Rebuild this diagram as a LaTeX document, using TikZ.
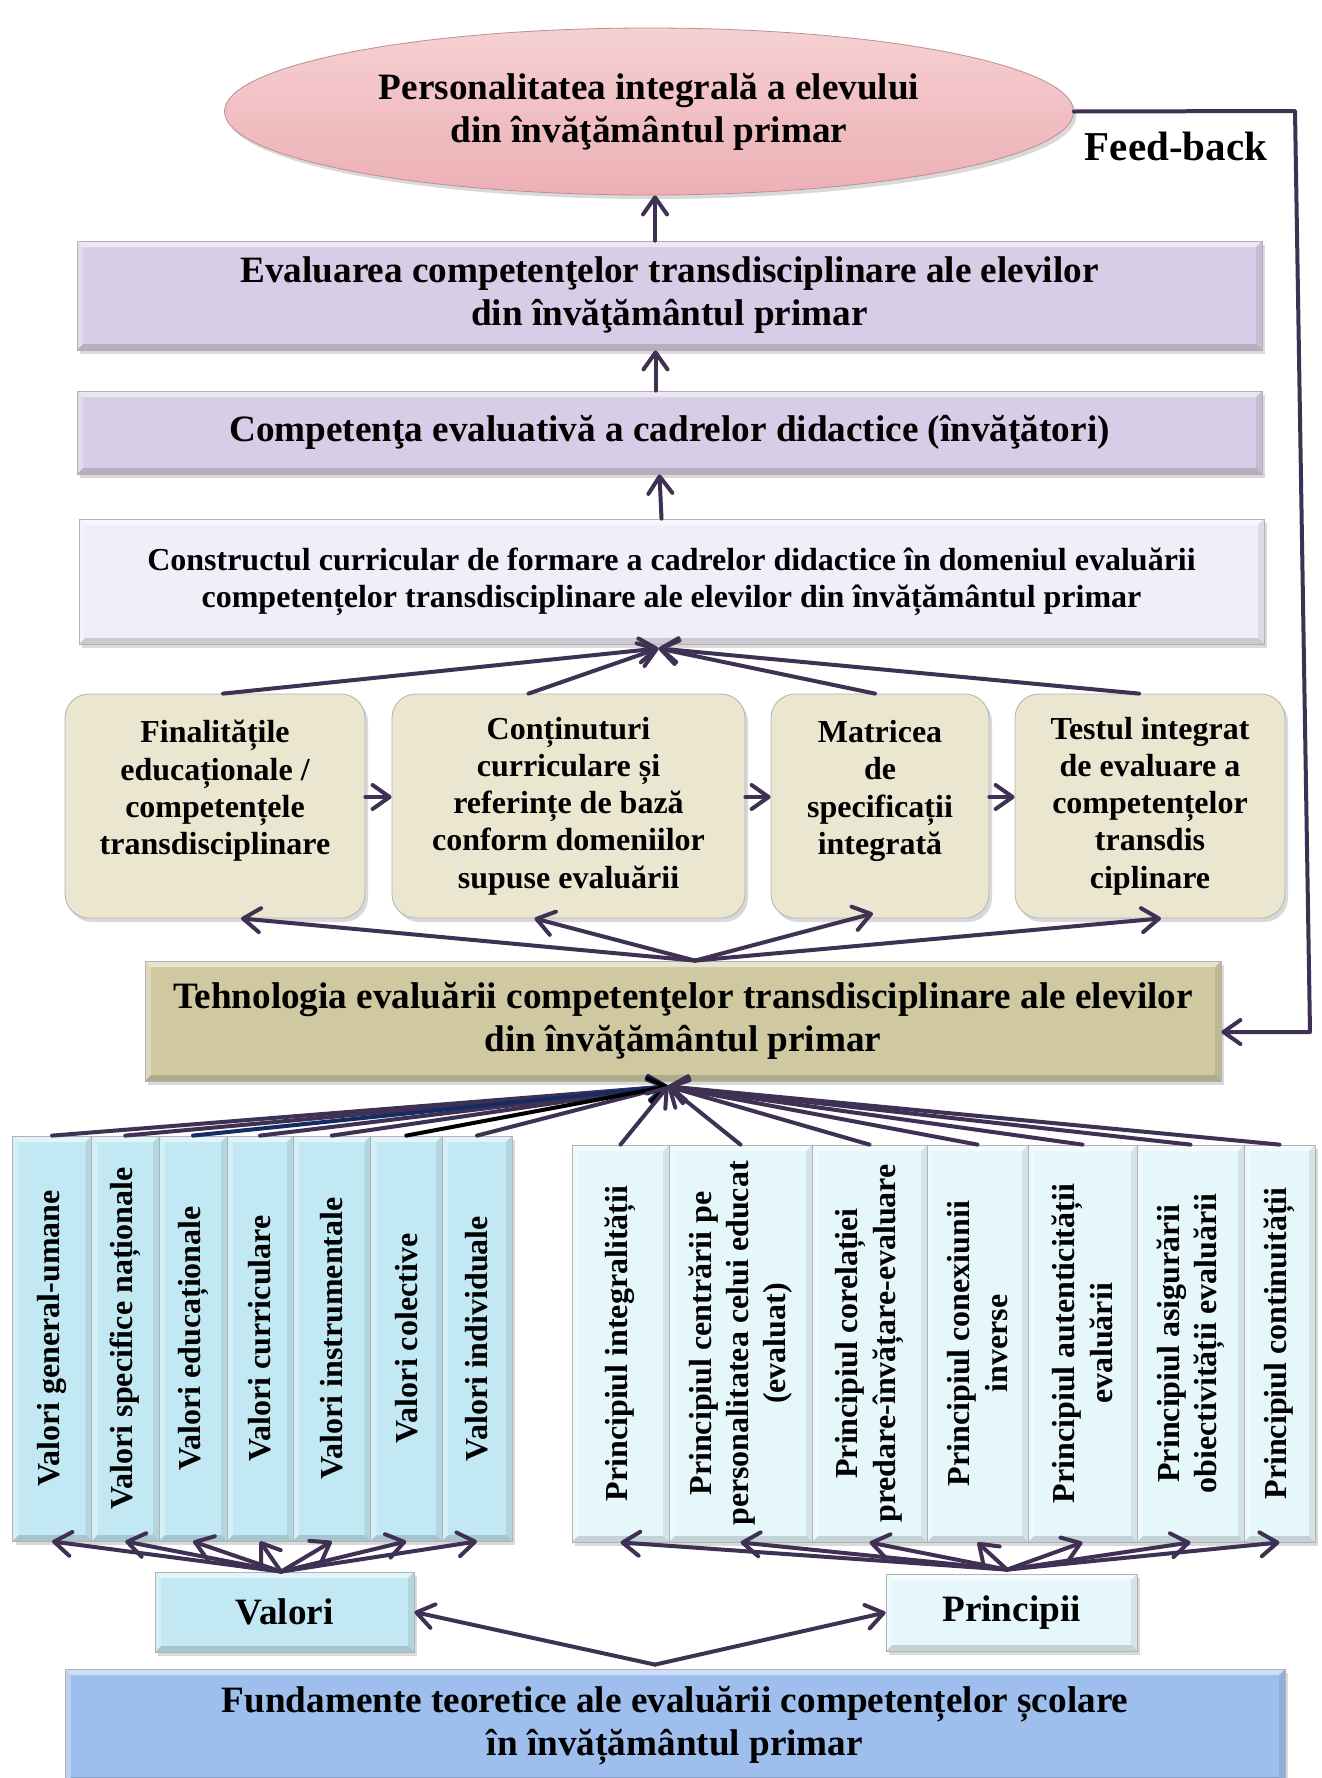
\documentclass[tikz,border=0pt]{standalone}
\usepackage{fontspec}
\setmainfont{Liberation Serif}
\usepackage{tikz}
\usetikzlibrary{arrows.meta}
\usetikzlibrary{shapes.geometric}
\usetikzlibrary{shadows}
\definecolor{linkpurple}{RGB}{63,49,84}
\definecolor{linkblue}{RGB}{22,43,100}
\definecolor{pinktop}{RGB}{246,208,210}
\definecolor{pinkbottom}{RGB}{236,176,181}
\definecolor{lavender}{RGB}{216,205,230}
\definecolor{palelavender}{RGB}{241,237,249}
\definecolor{beige}{RGB}{235,230,207}
\definecolor{khaki}{RGB}{207,200,160}
\definecolor{cyanbox}{RGB}{194,233,243}
\definecolor{palecyan}{RGB}{230,247,252}
\definecolor{fundblue}{RGB}{158,190,238}
\newcommand{\largetext}{\fontsize{18.6}{21.5}\selectfont\bfseries}
\newcommand{\smalltext}{\fontsize{16}{18.6}\selectfont\bfseries}
\tikzset{
    bevel/.style={path picture={
        \fill[white, opacity=0.5] (path picture bounding box.north west) -- (path picture bounding box.north east)
            -- ([xshift=-3pt, yshift=-3pt]path picture bounding box.north east)
            -- ([xshift=3pt, yshift=-3pt]path picture bounding box.north west) -- cycle;
        \fill[white, opacity=0.3] (path picture bounding box.north west) -- (path picture bounding box.south west)
            -- ([xshift=3pt, yshift=3pt]path picture bounding box.south west)
            -- ([xshift=3pt, yshift=-3pt]path picture bounding box.north west) -- cycle;
        \fill[black, opacity=0.15] (path picture bounding box.south west) -- (path picture bounding box.south east)
            -- ([xshift=-3pt, yshift=3pt]path picture bounding box.south east)
            -- ([xshift=3pt, yshift=3pt]path picture bounding box.south west) -- cycle;
        \fill[black, opacity=0.08] (path picture bounding box.north east) -- (path picture bounding box.south east)
            -- ([xshift=-3pt, yshift=3pt]path picture bounding box.south east)
            -- ([xshift=-3pt, yshift=-3pt]path picture bounding box.north east) -- cycle;
    }},
    common/.style={rectangle, draw=black!30, inner sep=0pt, align=center,
        drop shadow={opacity=0.3, shadow xshift=1.5pt, shadow yshift=-2pt}},
    levelbox/.style={common, bevel, fill=lavender, minimum width=592.5pt, font=\largetext},
    stagebox/.style={common, fill=beige, rounded corners=12pt, minimum height=112pt, font=\smalltext},
    valcol/.style={common, bevel, fill=cyanbox, minimum height=202.5pt},
    princol/.style={common, bevel, fill=palecyan, minimum height=198.5pt},
    coltext/.style={rotate=90, align=center, inner sep=0pt, font=\smalltext},
    link/.style={linkpurple, line width=2pt, line cap=round, line join=round,
        -{Straight Barb[length=8.5pt, width=12pt, round]}}
}

\begin{document}
\begin{tikzpicture}[x=0.5pt, y=-0.5pt]
  \useasboundingbox (0,0) rectangle (1322,1778);

  % upper chain
  \node[ellipse, draw=pinkbottom!80!black, top color=pinktop, bottom color=pinkbottom,
        minimum width=424.5pt, minimum height=83.5pt, inner sep=0pt, align=center, font=\largetext,
        drop shadow={opacity=0.3, shadow xshift=1.5pt, shadow yshift=-2pt}]
        (pers) at (649,111.5) {Personalitatea integrală a elevului\\din învăţământul primar};
  \node[font=\fontsize{20.5}{24}\selectfont\bfseries] (feedback) at (1176,146) {Feed-back};
  \node[levelbox, minimum height=54.5pt] (eval) at (669.5,295.5)
        {Evaluarea competenţelor transdisciplinare ale elevilor\\din învăţământul primar};
  \node[levelbox, minimum height=41.5pt] (comp) at (669.5,432.5)
        {Competenţa evaluativă a cadrelor didactice (învăţători)};
  \node[levelbox, fill=palelavender, minimum height=62.5pt, font=\smalltext] (cons) at (671.5,581.5)
        {Constructul curricular de formare a cadrelor didactice în domeniul evaluării\\
         competențelor transdisciplinare ale elevilor din învățământul primar};

  \draw[link] ([xshift=3pt]pers.south |- eval.north) -- ([xshift=3pt]pers.south);
  \draw[link] ([xshift=-7pt]comp.north) -- ([xshift=-7pt]eval.south);
  \draw[link] ([xshift=-5pt]cons.north) -- ([xshift=-5pt]comp.south);

  % the four stages
  \node[stagebox, minimum width=150pt] (final) at (215,806)
        {Finalitățile\\educaționale /\\competențele\\transdisciplinare\\~};
  \node[stagebox, minimum width=176.5pt] (cont) at (568.5,806)
        {Conținuturi\\curriculare și\\referințe de bază\\conform domeniilor\\supuse evaluării};
  \node[stagebox, minimum width=109pt] (matr) at (880,806)
        {Matricea\\de\\specificații\\integrată\\~};
  \node[stagebox, minimum width=135pt] (test) at (1150,806)
        {Testul integrat\\de evaluare a\\competențelor\\transdis\\ciplinare};

  \draw[link] ([yshift=4.5pt]final.east) -- ([yshift=4.5pt]cont.west);
  \draw[link] ([yshift=4.5pt]cont.east) -- ([yshift=4.5pt]matr.west);
  \draw[link] ([yshift=4.5pt]matr.east) -- ([yshift=4.5pt]test.west);

  \coordinate (consin) at ([xshift=-6.5pt, yshift=-2pt]cons.south);
  \draw[link] ([xshift=4pt]final.north) -- (consin);
  \draw[link] ([xshift=-20pt]cont.north) -- (consin);
  \draw[link] ([xshift=-2.5pt]matr.north) -- (consin);
  \draw[link] ([xshift=-5.5pt]test.north) -- (consin);

  % technology
  \node[common, bevel, fill=khaki, minimum width=538pt, minimum height=60pt, font=\largetext] (tech) at (683,1021)
        {Tehnologia evaluării competenţelor transdisciplinare ale elevilor\\din învăţământul primar};

  \coordinate (techup) at ([xshift=6pt]tech.north);
  \draw[link] (techup) -- ([xshift=13pt]final.south);
  \draw[link] (techup) -- ([xshift=-17pt]cont.south);
  \draw[link] (techup) -- ([xshift=-3.5pt, yshift=2.5pt]matr.south);
  \draw[link] (techup) -- ([xshift=5.5pt]test.south);

  % feed-back loop
  \coordinate (fbtop) at (1295,111);
  \coordinate (fbbot) at (1310,1032);
  \draw[link] (pers.east) -- (fbtop) -- (fbbot) -- (fbbot -| tech.east);

  % values and principles
  \foreach \n/\xa/\xb/\txt in {1/12.5/91.5/{Valori general-umane},
                              2/91.5/159/{Valori specifice naționale},
                              3/159/227/{Valori educaționale},
                              4/227/293/{Valori curriculare},
                              5/293/370.5/{Valori instrumentale},
                              6/370.5/442/{Valori colective},
                              7/442/512/{Valori individuale}}
    \node[valcol, minimum width={(\xb-\xa)*0.5pt}, label={[coltext]center:\txt}]
          (v\n) at ({(\xa+\xb)/2},1338.5) {};

  \foreach \n/\xa/\xb/\txt in {1/572/669/{Principiul integralității},
                              2/669/812/{Principiul centrării pe\\personalitatea celui educat\\(evaluat)},
                              3/812/927/{Principiul corelației\\predare-învățare-evaluare},
                              4/927/1028/{Principiul conexiunii\\inverse},
                              5/1028/1137/{Principiul autenticității\\evaluării},
                              6/1137/1244/{Principiul asigurării\\obiectivității evaluării},
                              7/1244/1315/{Principiul continuității}}
    \node[princol, minimum width={(\xb-\xa)*0.5pt}, label={[coltext]center:\txt}]
          (p\n) at ({(\xa+\xb)/2},1343.5) {};

  \coordinate (techdown) at ([xshift=-7.5pt, yshift=-2.5pt]tech.south);
  \foreach \n in {1,2,4,5,7}
    \draw[link] (v\n.north) -- (techdown);
  \draw[link, linkblue] (v3.north) -- (techdown);
  \draw[link, black] (v6.north) -- (techdown);
  \foreach \n in {1,...,7}
    \draw[link] (p\n.north) -- (techdown);

  \node[common, bevel, fill=cyanbox, minimum width=129.5pt, minimum height=40pt, font=\largetext] (valori) at (284.5,1612) {Valori};
  \node[common, bevel, fill=palecyan, minimum width=125.5pt, minimum height=38.5pt, font=\largetext] (princ) at (1011.5,1612.5) {Principii};

  \coordinate (valup) at ([xshift=-1.75pt]valori.north);
  \coordinate (princup) at ([xshift=-2.25pt, yshift=2pt]princ.north);
  \foreach \n in {1,...,7}{
    \draw[link] (valup) -- (v\n.south);
    \draw[link] (princup) -- (p\n.south);
  }

  % foundations
  \node[common, bevel, fill=fundblue, minimum width=610pt, minimum height=57pt, font=\largetext] (fund) at (675,1726)
        {Fundamente teoretice ale evaluării competențelor școlare\\în învățământul primar};

  \coordinate (fundup) at ([xshift=-10pt, yshift=2pt]fund.north);
  \draw[link] (fundup) -- (valori.east);
  \draw[link] (fundup) -- (princ.west);
\end{tikzpicture}
\end{document}
